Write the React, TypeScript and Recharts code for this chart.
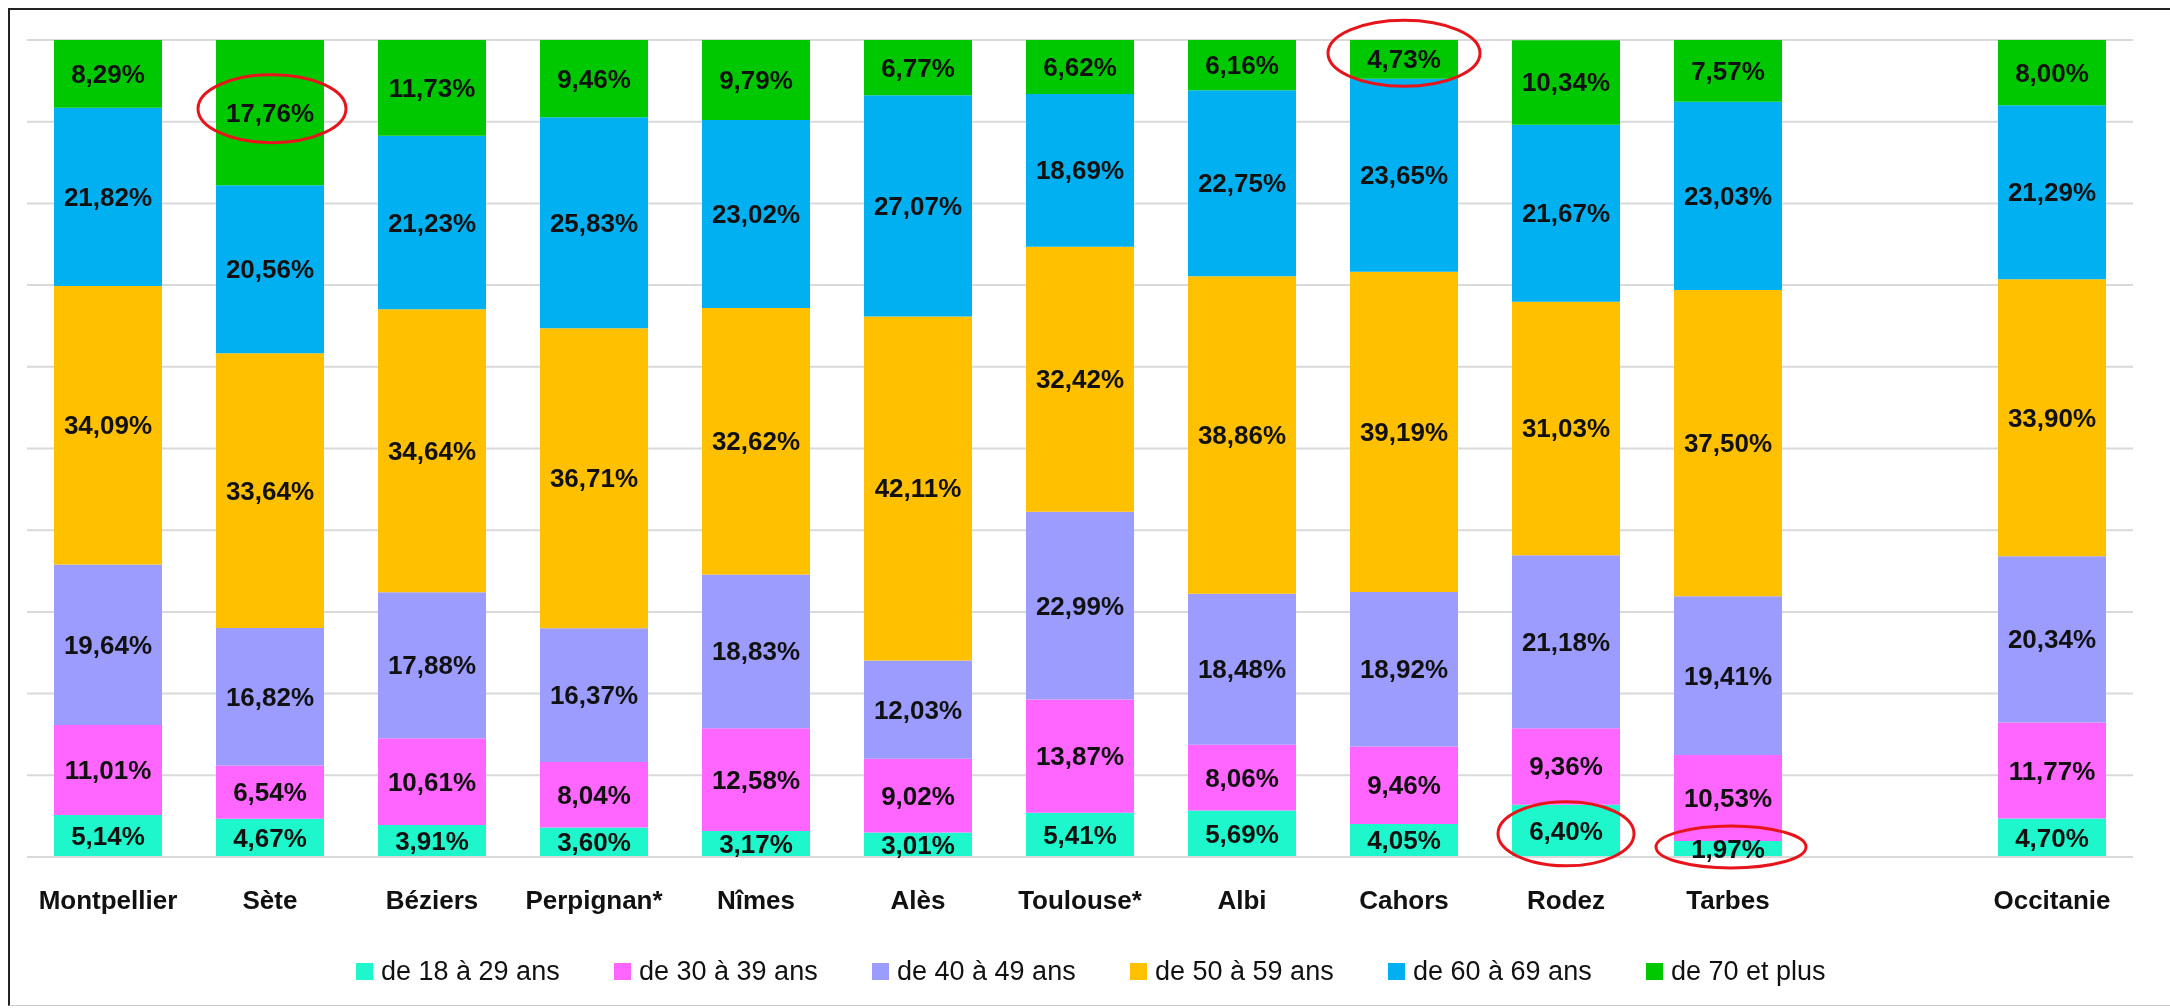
import React from "react";
import { BarChart, Bar, XAxis, YAxis, CartesianGrid, LabelList, Legend } from "recharts";

const categories = ["Montpellier", "Sète", "Béziers", "Perpignan*", "Nîmes", "Alès", "Toulouse*", "Albi", "Cahors", "Rodez", "Tarbes", "", "Occitanie"];

const age18_29 = [5.14, 4.67, 3.91, 3.6, 3.17, 3.01, 5.41, 5.69, 4.05, 6.4, 1.97, null, 4.7];
const age30_39 = [11.01, 6.54, 10.61, 8.04, 12.58, 9.02, 13.87, 8.06, 9.46, 9.36, 10.53, null, 11.77];
const age40_49 = [19.64, 16.82, 17.88, 16.37, 18.83, 12.03, 22.99, 18.48, 18.92, 21.18, 19.41, null, 20.34];
const age50_59 = [34.09, 33.64, 34.64, 36.71, 32.62, 42.11, 32.42, 38.86, 39.19, 31.03, 37.5, null, 33.9];
const age60_69 = [21.82, 20.56, 21.23, 25.83, 23.02, 27.07, 18.69, 22.75, 23.65, 21.67, 23.03, null, 21.29];
const age70plus = [8.29, 17.76, 11.73, 9.46, 9.79, 6.77, 6.62, 6.16, 4.73, 10.34, 7.57, null, 8.0];

const seriesNames = ["de 18 à 29 ans", "de 30 à 39 ans", "de 40 à 49 ans", "de 50 à 59 ans", "de 60 à 69 ans", "de 70 et plus"];
const seriesKeys = ["a18", "a30", "a40", "a50", "a60", "a70"];
const seriesValues = [age18_29, age30_39, age40_49, age50_59, age60_69, age70plus];

const yTicks = [0, 10, 20, 30, 40, 50, 60, 70, 80, 90, 100];

// highlighted (circled in red) cells
const highlights = [
  { city: "Sète", key: "a70" },
  { city: "Cahors", key: "a70" },
  { city: "Rodez", key: "a18" },
  { city: "Tarbes", key: "a18" },
];

// style for the red ellipses
const ellipseStyle: Record<string, { rx: number; ry: number; dx: number; dy: number }> = {
  "Sète": { rx: 74, ry: 34, dx: 2, dy: -4 },
  "Cahors": { rx: 76, ry: 33, dx: 0, dy: -6 },
  "Rodez": { rx: 68, ry: 32, dx: 0, dy: 3 },
  "Tarbes": { rx: 75, ry: 21, dx: 3, dy: -2 },
};

const colors = ["#1EF7CB", "#FF66FF", "#9C9CFF", "#FFC000", "#00B0F0", "#00C800"];

const data = categories.map((name, i) => {
  const row: any = { name };
  seriesKeys.forEach((k, s) => {
    row[k] = seriesValues[s][i];
  });
  return row;
});

const FONT = "'Liberation Sans', Arial, sans-serif";

const fmt = (v: number) => v.toFixed(2).replace(".", ",") + "%";

const makeLabel = (key: string) => (props: any) => {
  const { x, y, width, height, value, index } = props;
  if (value === null || value === undefined) return null;
  const cx = Number(x) + Number(width) / 2;
  const cy = Number(y) + Number(height) / 2;
  const city = categories[index];
  const hl = highlights.find((h) => h.city === city && h.key === key);
  const es = hl ? ellipseStyle[city] : null;
  return (
    <g>
      <text
        x={cx}
        y={cy}
        textAnchor="middle"
        dominantBaseline="central"
        fontFamily={FONT}
        fontWeight="bold"
        fontSize={26}
        fill="#111"
      >
        {fmt(Number(value))}
      </text>
      {es && (
        <ellipse
          cx={cx + es.dx}
          cy={cy + es.dy}
          rx={es.rx}
          ry={es.ry}
          fill="none"
          stroke="#E8141B"
          strokeWidth={3}
        />
      )}
    </g>
  );
};

const CategoryTick = (props: any) => {
  const { x, y, payload } = props;
  return (
    <text
      x={x}
      y={y}
      dy={35}
      textAnchor="middle"
      dominantBaseline="central"
      fontFamily={FONT}
      fontWeight="bold"
      fontSize={26}
      fill="#111"
    >
      {payload.value}
    </text>
  );
};

const LegendContent = () => (
  <div
    style={{
      display: "flex",
      justifyContent: "flex-start",
      alignItems: "center",
      paddingLeft: 348,
      height: 30,
      fontFamily: FONT,
      fontSize: 27,
      color: "#111",
    }}
  >
    {seriesNames.map((n, i) => (
      <div key={n} style={{ display: "flex", alignItems: "center", width: 258, flex: "0 0 258px" }}>
        <span style={{ display: "inline-block", width: 17, height: 17, background: colors[i], marginRight: 8 }} />
        <span style={{ whiteSpace: "nowrap" }}>{n}</span>
      </div>
    ))}
  </div>
);

export default function App() {
  return (
    <div style={{ position: "relative", width: 2162, height: 996 }}>
      <div
        style={{
          position: "fixed",
          left: 8,
          top: 8,
          width: 2170,
          height: 998,
          borderTop: "2px solid #222",
          borderLeft: "2px solid #222",
          borderBottom: "1px solid #ccc",
          boxSizing: "border-box",
          pointerEvents: "none",
        }}
      />
      <BarChart
        width={2162}
        height={996}
        data={data}
        margin={{ top: 32, right: 37, left: 19, bottom: 87 }}
        barSize={108}
      >
        <CartesianGrid horizontal vertical={false} stroke="#d9d9d9" strokeWidth={2} />
        <YAxis hide domain={[0, 100]} ticks={yTicks} type="number" allowDataOverflow />
        <XAxis
          dataKey="name"
          tickLine={false}
          axisLine={{ stroke: "#d9d9d9", strokeWidth: 2 }}
          tick={<CategoryTick />}
          interval={0}
          height={60}
        />
        <Legend
          verticalAlign="middle"
          align="center"
          layout="horizontal"
          wrapperStyle={{ top: 948, left: 0, width: 2162, height: 30 }}
          content={<LegendContent />}
        />
        {seriesKeys.map((k, s) => (
          <Bar key={k} dataKey={k} name={seriesNames[s]} stackId="a" fill={colors[s]} isAnimationActive={false}>
            <LabelList dataKey={k} content={makeLabel(k)} />
          </Bar>
        ))}
      </BarChart>
    </div>
  );
}
